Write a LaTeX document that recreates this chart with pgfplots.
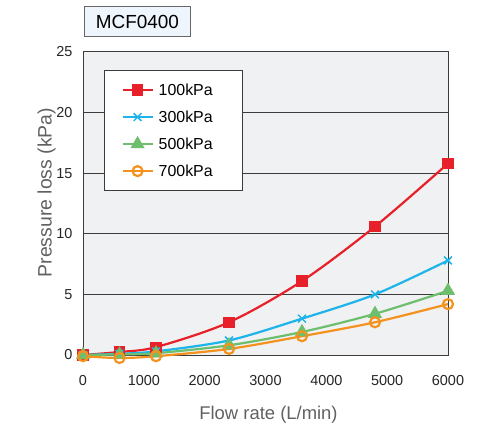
\documentclass[border=0pt]{standalone}
\usepackage{fontspec}
\setmainfont{Liberation Sans}
\usepackage{pgfplots}
\pgfplotsset{compat=1.18}
\definecolor{cred}{HTML}{E8202A}
\definecolor{cblue}{HTML}{1DB4EA}
\definecolor{cgreen}{HTML}{6DBF6E}
\definecolor{corange}{HTML}{F5921E}
\definecolor{bggray}{HTML}{F0F1F3}
\definecolor{gridc}{HTML}{3C3C3C}
\definecolor{titlebg}{HTML}{EEF5FC}
\begin{document}
\begin{tikzpicture}[x=1bp,y=1bp]
\path (-83bp,-77bp) rectangle (395bp,355bp);
\begin{axis}[
  scale only axis,
  width=365bp, height=303bp,
  xmin=0, xmax=6000, ymin=0, ymax=25,
  xtick={0,1000,...,6000}, ytick={0,5,...,25},
  scaled x ticks=false,
  /pgf/number format/assume math mode=true,
  /pgf/number format/set thousands separator={},
  major tick length=0pt,
  ymajorgrids, grid style={gridc, line width=1bp},
  axis line style={gridc, line width=1bp},
  axis background/.style={fill=bggray},
  tick label style={font=\fontsize{14.5}{16}\selectfont, text=black!85},
  xticklabel style={yshift=-17bp},
  yticklabel style={xshift=-7bp},
  xlabel={Flow rate (L/min)}, ylabel={Pressure loss (kPa)},
  label style={font=\fontsize{18.5}{21}\selectfont, text=black!62},
  xlabel style={yshift=-14bp, xshift=3bp},
  ylabel style={yshift=-6bp, xshift=11bp, font=\fontsize{19.5}{22}\selectfont},
  clip=false,
  legend cell align=left,
  legend style={at={(rel axis cs:0.0575,0.9406)}, anchor=north west,
    draw=gridc, line width=1bp, fill=white,
    font=\fontsize{16}{18}\selectfont,
    inner xsep=17bp, inner ysep=11bp, row sep=10bp,
    /tikz/every odd column/.append style={column sep=3bp}},
  legend image code/.code={\draw[mark repeat=2,mark phase=2] plot coordinates {(0bp,0bp) (15bp,0bp) (30bp,0bp)};},
  every axis plot/.append style={line width=2.2bp, smooth, tension=0.5},
]
\addplot[cred, mark=square*, mark size=4.5bp, mark options={solid}] coordinates {
 (0,0) (600,0.25) (1200,0.65) (2400,2.7) (3600,6.1) (4800,10.6) (6000,15.8)};
\addlegendentry{\makebox[65bp][l]{100kPa}}
\addplot[cblue, mark=x, mark size=5.5bp, mark options={line width=1.5bp}] coordinates {
 (0,0) (600,0.1) (1200,0.3) (2400,1.2) (3600,3.0) (4800,5.0) (6000,7.8)};
\addlegendentry{300kPa}
\addplot[cgreen, mark=triangle*, mark size=6bp] coordinates {
 (0,0) (600,0.05) (1200,0.15) (2400,0.8) (3600,1.9) (4800,3.4) (6000,5.3)};
\addlegendentry{500kPa}
\addplot[corange, mark=o, mark size=5bp, mark options={fill=white, line width=2.2bp}] coordinates {
 (0,-0.1) (600,-0.25) (1200,-0.1) (2400,0.5) (3600,1.55) (4800,2.7) (6000,4.2)};
\addlegendentry{700kPa}
\node[draw=black!60, line width=0.8bp, fill=titlebg, anchor=south west,
  minimum width=106bp, minimum height=30bp, inner sep=0pt,
  font=\fontsize{19}{21}\selectfont] at ([xshift=1bp,yshift=15bp]rel axis cs:0,1) {MCF0400};
\end{axis}
\end{tikzpicture}
\end{document}
